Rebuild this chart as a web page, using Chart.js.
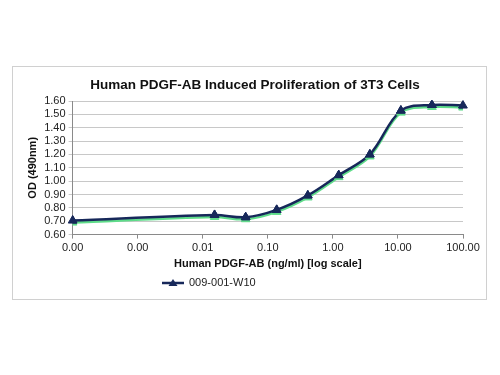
<!DOCTYPE html>
<html>
<head>
<meta charset="utf-8">
<script src="https://cdn.jsdelivr.net/npm/chart.js@4"></script>
<style>
  html, body { margin: 0; padding: 0; background: #fff; }
  #wrap { width: 500px; height: 375px; }
</style>
</head>
<body>
<div id="wrap"><canvas id="odChart" width="500" height="375"></canvas></div>
<script>
const chartTitle = 'Human PDGF-AB Induced Proliferation of 3T3 Cells';
const seriesName = '009-001-W10';
const xAxisTitle = 'Human PDGF-AB (ng/ml) [log scale]';
const yAxisTitle = 'OD (490nm)';

// concentration (ng/ml), zero dose plotted at the axis start
const concentrations = [0.0001, 0.0152, 0.0457, 0.137, 0.412, 1.23, 3.70, 11.1, 33.3, 100];
const odValues = [0.705, 0.747, 0.730, 0.785, 0.893, 1.045, 1.200, 1.528, 1.570, 1.566];

const xTicks = [0.0001, 0.001, 0.01, 0.1, 1, 10, 100];
const xTickLabels = ['0.00', '0.00', '0.01', '0.10', '1.00', '10.00', '100.00'];

const navy = '#17285a';
const shadowGreen = '#5fdc8a';
const fontFamily = '"Liberation Sans", Arial, sans-serif';

// offset green shadow under the line, markers redrawn on top without it
const shadowPlugin = {
  id: 'shadow',
  beforeDatasetsDraw(chart) {
    const ctx = chart.ctx;
    ctx.save();
    ctx.shadowColor = shadowGreen;
    ctx.shadowOffsetX = 0;
    ctx.shadowOffsetY = 2;
    ctx.shadowBlur = 0;
  },
  afterDatasetsDraw(chart) {
    chart.ctx.restore();
    chart.getDatasetMeta(0).data.forEach(pt => pt.draw(chart.ctx, chart.chartArea));
  }
};

// outer frame, title, and legend below the axis title
const framePlugin = {
  id: 'frame',
  beforeDraw(chart) {
    const ctx = chart.ctx;
    ctx.save();
    ctx.strokeStyle = '#d0d0d0';
    ctx.lineWidth = 1;
    ctx.strokeRect(12.5, 66.5, 474, 233);
    ctx.fillStyle = '#111';
    ctx.font = 'bold 13.5px ' + fontFamily;
    ctx.textAlign = 'center';
    ctx.textBaseline = 'middle';
    ctx.fillText(chartTitle, 255, 85);
    ctx.restore();
  },
  afterDraw(chart) {
    const ctx = chart.ctx;
    const y = 283;
    ctx.save();
    ctx.strokeStyle = navy;
    ctx.lineWidth = 2.5;
    ctx.beginPath();
    ctx.moveTo(162, y);
    ctx.lineTo(184, y);
    ctx.stroke();
    ctx.fillStyle = navy;
    ctx.beginPath();
    ctx.moveTo(173, y - 4);
    ctx.lineTo(177.5, y + 3);
    ctx.lineTo(168.5, y + 3);
    ctx.closePath();
    ctx.fill();
    ctx.fillStyle = '#222';
    ctx.font = '11px ' + fontFamily;
    ctx.textBaseline = 'middle';
    ctx.textAlign = 'left';
    ctx.fillText(chart.data.datasets[0].label, 189, y);
    ctx.restore();
  }
};

const ctx = document.getElementById('odChart').getContext('2d');
new Chart(ctx, {
  type: 'line',
  data: {
    datasets: [{
      label: seriesName,
      data: concentrations.map((c, i) => ({ x: c, y: odValues[i] })),
      borderColor: navy,
      backgroundColor: navy,
      borderWidth: 2.5,
      tension: 0.35,
      pointStyle: 'triangle',
      pointRadius: 5,
      pointBackgroundColor: navy,
      pointBorderColor: navy,
      pointBorderWidth: 1,
      fill: false
    }]
  },
  options: {
    responsive: false,
    animation: false,
    layout: { padding: { left: 26, right: 37, top: 101, bottom: 104 } },
    plugins: {
      legend: { display: false },
      tooltip: { enabled: false },
      title: { display: false }
    },
    scales: {
      x: {
        type: 'logarithmic',
        min: xTicks[0],
        max: xTicks[xTicks.length - 1],
        afterBuildTicks: scale => { scale.ticks = xTicks.map(v => ({ value: v })); },
        ticks: {
          autoSkip: false,
          maxRotation: 0,
          color: '#222',
          font: { family: fontFamily, size: 11 },
          padding: 3,
          callback: (value, index) => xTickLabels[index]
        },
        grid: { drawOnChartArea: false, drawTicks: true, tickLength: 4, color: '#8a8a8a' },
        border: { color: '#8a8a8a' },
        title: {
          display: true,
          text: xAxisTitle,
          color: '#111',
          font: { family: fontFamily, size: 11, weight: 'bold' },
          padding: { top: 0, bottom: 0 }
        }
      },
      y: {
        min: 0.6,
        max: 1.6,
        ticks: {
          stepSize: 0.1,
          autoSkip: false,
          color: '#222',
          font: { family: fontFamily, size: 11 },
          padding: 3,
          callback: v => Number(v).toFixed(2)
        },
        grid: { color: '#c8c8c8', tickLength: 4 },
        border: { color: '#8a8a8a' },
        title: {
          display: true,
          text: yAxisTitle,
          color: '#111',
          font: { family: fontFamily, size: 11, weight: 'bold' },
          padding: { top: 0, bottom: 2 }
        }
      }
    }
  },
  plugins: [shadowPlugin, framePlugin]
});
</script>
</body>
</html>
